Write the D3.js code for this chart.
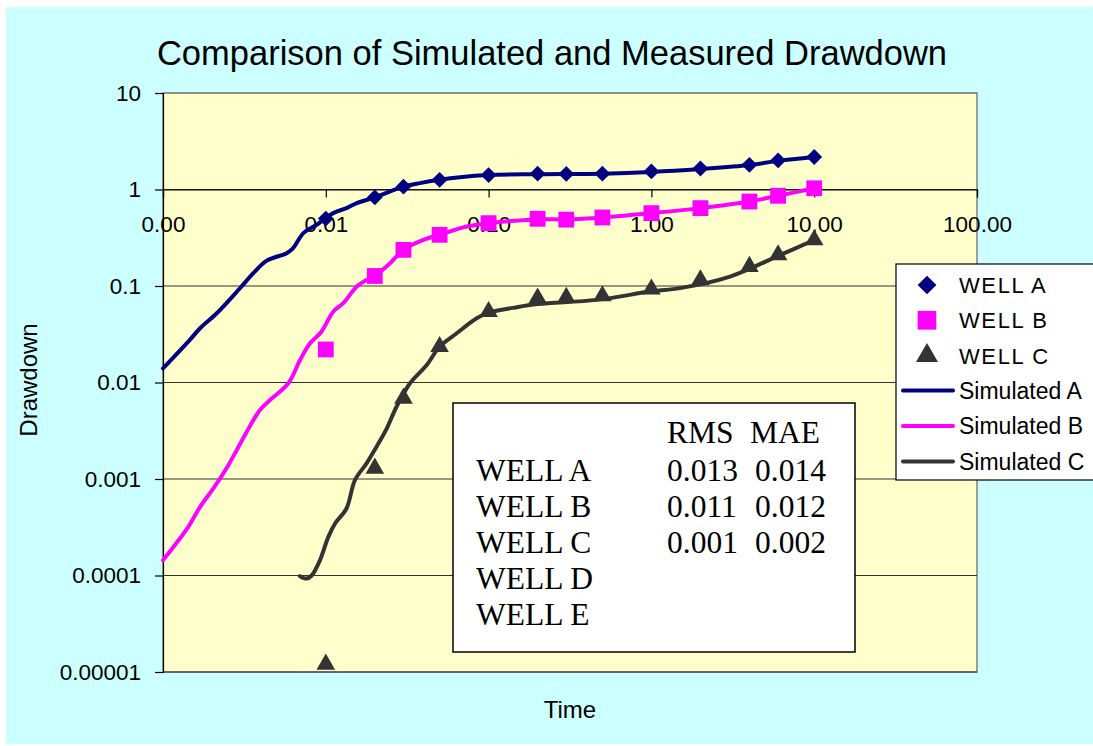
<!DOCTYPE html>
<html>
<head>
<meta charset="utf-8">
<script src="https://cdn.jsdelivr.net/npm/d3@7"></script>
<style>
    body { margin: 0; background: #ffffff; }
    svg { display: block; }
    text { font-family: "Liberation Sans", Arial, sans-serif; fill: #000; }
</style>
</head>
<body>
<svg id="chart" width="1093" height="746"></svg>
<script>
const svg = d3.select("#chart");
const width = 1093;
const height = 746;

const margin = {
    "T": 93,
    "B": 74,
    "R": 116,
    "L": 163,
};

// ---- DATA ---- //

const xTicks = [0.001, 0.01, 0.1, 1, 10, 100];
const yTicks = [0.00001, 0.0001, 0.001, 0.01, 0.1, 1, 10];
const yTickLabels = ["0.00001", "0.0001", "0.001", "0.01", "0.1", "1", "10"];

// measured
const obsTime = [0.01, 0.02, 0.03, 0.05, 0.1, 0.2, 0.3, 0.5, 1, 2, 4, 6, 10];
const wellA = [0.50, 0.83, 1.07, 1.26, 1.41, 1.46, 1.45, 1.46, 1.54, 1.65, 1.80, 2.00, 2.17];
const wellB = [0.022, 0.127, 0.237, 0.339, 0.448, 0.497, 0.487, 0.513, 0.569, 0.641, 0.751, 0.861, 1.03];
const wellC = [0.000012, 0.00129, 0.00686, 0.0235, 0.0542, 0.0747, 0.0758, 0.0789, 0.0927, 0.1156, 0.159, 0.21, 0.30];

// simulated
const simATime = [0.001, 0.00143, 0.00169, 0.00214, 0.00297, 0.00359, 0.00434, 0.00575, 0.0063, 0.00728, 0.00879, 0.0111, 0.0134, 0.0155, 0.02, 0.03, 0.0379, 0.05, 0.0667, 0.1, 0.2, 0.5, 1, 2, 4, 6, 10];
const simA = [0.014, 0.0265, 0.0365, 0.0522, 0.0948, 0.136, 0.183, 0.219, 0.247, 0.353, 0.431, 0.569, 0.641, 0.723, 0.83, 1.07, 1.165, 1.26, 1.34, 1.41, 1.44, 1.46, 1.52, 1.63, 1.79, 1.98, 2.17];

const simBTime = [0.001, 0.00143, 0.00169, 0.00204, 0.00252, 0.00284, 0.00327, 0.00394, 0.00454, 0.00589, 0.00695, 0.008, 0.0094, 0.0111, 0.0128, 0.0155, 0.0178, 0.02, 0.0248, 0.03, 0.0397, 0.05, 0.0733, 0.1, 0.2, 0.3, 0.5, 1, 2, 4, 6, 10];
const simB = [0.000144, 0.000319, 0.000515, 0.000798, 0.00139, 0.002, 0.00309, 0.00519, 0.00658, 0.00982, 0.0171, 0.0255, 0.0336, 0.0542, 0.0664, 0.0986, 0.1156, 0.127, 0.172, 0.237, 0.30, 0.339, 0.413, 0.448, 0.49, 0.49, 0.513, 0.569, 0.641, 0.751, 0.861, 1.03];

const simCTime = [0.00693, 0.00763, 0.00819, 0.00921, 0.01035, 0.0114, 0.0134, 0.0151, 0.0178, 0.0205, 0.0237, 0.0272, 0.0329, 0.0417, 0.05, 0.0637, 0.0845, 0.1, 0.141, 0.2, 0.461, 1, 1.5, 3.04, 6, 10];
const simC = [0.0000985, 0.000093, 0.0001, 0.000144, 0.00025, 0.000346, 0.000495, 0.000975, 0.00145, 0.00216, 0.00335, 0.00561, 0.00982, 0.0152, 0.0235, 0.0324, 0.0463, 0.053, 0.0593, 0.065, 0.0718, 0.088, 0.095, 0.125, 0.205, 0.30];

// error table
const statWells = ["WELL A", "WELL B", "WELL C", "WELL D", "WELL E"];
const statRms = ["0.013", "0.011", "0.001"];
const statMae = ["0.014", "0.012", "0.002"];

const series = [
    { "name": "Simulated A", "time": simATime, "vals": simA, "color": "#000080" },
    { "name": "Simulated B", "time": simBTime, "vals": simB, "color": "#ff00ff" },
    { "name": "Simulated C", "time": simCTime, "vals": simC, "color": "#333333" },
];
const wells = [
    { "name": "WELL A", "vals": wellA, "color": "#000080", "shape": d3.symbolDiamond2, "size": 160 },
    { "name": "WELL B", "vals": wellB, "color": "#ff00ff", "shape": d3.symbolSquare, "size": 250 },
    { "name": "WELL C", "vals": wellC, "color": "#333333", "shape": d3.symbolTriangle, "size": 150 },
];

// ---- BACKGROUND ---- //

svg.append("rect")
    .attr("x", 6).attr("y", 7)
    .attr("width", width - 6).attr("height", 737)
    .attr("fill", "#ccffff");

svg.append("rect")
    .attr("x", margin.L).attr("y", margin.T)
    .attr("width", width - margin.R - margin.L)
    .attr("height", height - margin.B - margin.T)
    .attr("fill", "#ffffcc")
    .attr("stroke", "#808080")
    .attr("stroke-width", 1.5);

// ---- SCALES ---- //

const xScale = d3.scaleLog()
    .domain([0.001, 100])
    .range([margin.L, width - margin.R]);
const yScale = d3.scaleLog()
    .domain([0.00001, 10])
    .range([height - margin.B, margin.T]);

// gridlines
svg.append("g")
    .selectAll("line")
    .data(yTicks)
    .enter()
    .append("line")
        .attr("x1", margin.L)
        .attr("x2", width - margin.R)
        .attr("y1", d => yScale(d))
        .attr("y2", d => yScale(d))
        .attr("stroke", d => d == 10 ? "#808080" : "#333333")
        .attr("stroke-width", 1.2);

// ---- AXES ---- //

const yAxis = d3.axisLeft(yScale)
    .tickValues(yTicks)
    .tickFormat((d, i) => yTickLabels[i])
    .tickSize(8)
    .tickPadding(14);
const xAxis = d3.axisBottom(xScale)
    .tickValues(xTicks)
    .tickFormat(d3.format(".2f"))
    .tickSize(8)
    .tickPadding(19);

svg.append("g")
    .attr("class", "y-axis")
    .attr("transform", `translate(${margin.L}, 0)`)
    .call(yAxis);
svg.append("g")
    .attr("class", "x-axis")
    .attr("transform", `translate(0, ${yScale(1)})`)
    .call(xAxis);

svg.selectAll(".x-axis .domain, .y-axis .domain, .tick line")
    .attr("stroke", "#000")
    .attr("stroke-width", 1.2);
svg.selectAll(".tick text")
    .style("font-family", '"Liberation Sans", Arial, sans-serif')
    .style("font-size", "22.5px")
    .attr("fill", "#000");

// ---- LINES ---- //

const line = d3.line()
    .x(d => xScale(d[0]))
    .y(d => yScale(d[1]))
    .curve(d3.curveCatmullRom.alpha(0.5));

series.forEach(
    (s) => {
        svg.append("path")
            .attr("d", line(s.time.map((t, i) => [t, s.vals[i]])))
            .attr("fill", "none")
            .attr("stroke", s.color)
            .attr("stroke-width", 4)
            .attr("stroke-linejoin", "round")
            .attr("stroke-linecap", "round");
    }
);

// ---- POINTS ---- //

wells.forEach(
    (w) => {
        const sym = d3.symbol().type(w.shape).size(w.size);
        svg.append("g")
            .selectAll("path")
            .data(obsTime.map((t, i) => [t, w.vals[i]]))
            .enter()
            .append("path")
                .attr("d", sym)
                .attr("transform", d => `translate(${xScale(d[0])}, ${yScale(d[1])})`)
                .attr("fill", w.color);
    }
);

// ---- STATS BOX ---- //

const stats = svg.append("g");
stats.append("rect")
    .attr("x", 453).attr("y", 403)
    .attr("width", 402).attr("height", 249)
    .attr("fill", "#fff")
    .attr("stroke", "#000")
    .attr("stroke-width", 1.5);

const serif = '"Liberation Serif", "Times New Roman", serif';
const statFont = "31.5px";
stats.append("text")
    .attr("x", 667).attr("y", 443)
    .style("font-family", serif).style("font-size", statFont)
    .text("RMS");
stats.append("text")
    .attr("x", 750).attr("y", 443)
    .style("font-family", serif).style("font-size", statFont)
    .text("MAE");
statWells.forEach((w, i) => {
    const y = 481 + i * 36;
    stats.append("text")
        .attr("x", 476).attr("y", y)
        .style("font-family", serif).style("font-size", statFont)
        .text(w);
    if (i < statRms.length) {
        stats.append("text")
            .attr("x", 667).attr("y", y)
            .style("font-family", serif).style("font-size", statFont)
            .text(statRms[i]);
        stats.append("text")
            .attr("x", 755).attr("y", y)
            .style("font-family", serif).style("font-size", statFont)
            .text(statMae[i]);
    }
});

// ---- LEGEND ---- //

const legend = svg.append("g");
legend.append("rect")
    .attr("x", 896).attr("y", 264)
    .attr("width", 210).attr("height", 216)
    .attr("fill", "#fff")
    .attr("stroke", "#000")
    .attr("stroke-width", 1.2);

wells.forEach((w, i) => {
    const y = 285 + i * 35.3;
    legend.append("path")
        .attr("d", d3.symbol().type(w.shape).size(w.size * 1.4))
        .attr("transform", `translate(927, ${y})`)
        .attr("fill", w.color);
    legend.append("text")
        .attr("x", 959).attr("y", y)
        .attr("dy", "0.36em")
        .style("font-size", "22px")
        .style("letter-spacing", "1.6px")
        .text(w.name);
});
series.forEach((s, i) => {
    const y = 390.5 + i * 35.5;
    legend.append("line")
        .attr("x1", 903).attr("x2", 953)
        .attr("y1", y).attr("y2", y)
        .attr("stroke", s.color)
        .attr("stroke-width", 4)
        .attr("stroke-linecap", "round");
    legend.append("text")
        .attr("x", 959).attr("y", y)
        .attr("dy", "0.36em")
        .style("font-size", "23px")
        .text(s.name);
});

// ---- TITLES ---- //

svg.append("text")
    .attr("x", 552).attr("y", 65)
    .attr("text-anchor", "middle")
    .style("font-size", "34.5px")
    .text("Comparison of Simulated and Measured Drawdown");
svg.append("text")
    .attr("x", 570).attr("y", 718)
    .attr("text-anchor", "middle")
    .style("font-size", "24px")
    .text("Time");
svg.append("text")
    .attr("transform", "translate(37, 380) rotate(-90)")
    .attr("text-anchor", "middle")
    .style("font-size", "24px")
    .text("Drawdown");
</script>
</body>
</html>
